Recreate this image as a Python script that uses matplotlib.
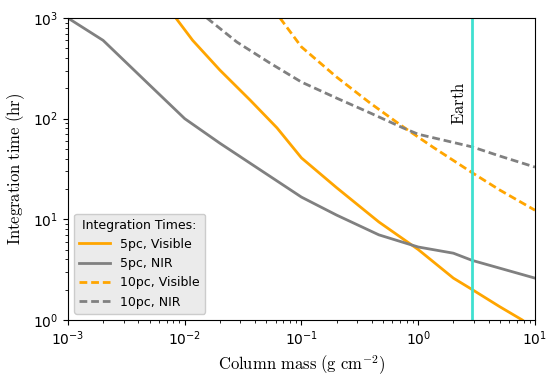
import numpy as np
import matplotlib
matplotlib.use("Agg")
import matplotlib.pyplot as plt

plt.rcParams['mathtext.fontset'] = 'cm'

# column mass (g cm^-2) and integration time (hr)
x_5_vis = [8.4e-3, 0.0117, 0.02, 0.0363, 0.0617, 0.1, 0.2, 0.46, 1.0, 2.0, 2.9, 5.0, 7.75, 10.0]
y_5_vis = [1000, 600, 304, 153, 81, 40.7, 20.6, 9.4, 5.0, 2.6, 2.0, 1.35, 1.0, 0.8]

x_5_nir = [1e-3, 2e-3, 5e-3, 1e-2, 2e-2, 0.1, 0.2, 0.46, 1.0, 2.0, 2.9, 10.0]
y_5_nir = [1000, 600, 216, 100, 57, 16.6, 11, 7.0, 5.3, 4.6, 3.9, 2.6]

x_10_vis = [0.0655, 0.1, 0.2, 0.387, 0.71, 1.34, 2.9, 5.0, 10.0]
y_10_vis = [1000, 516, 259, 143, 86, 52, 29, 19.5, 12.3]

x_10_nir = [0.0155, 0.028, 0.0537, 0.1, 0.2, 0.387, 0.74, 1.0, 2.0, 2.9, 5.0, 10.0]
y_10_nir = [1000, 577, 357, 231, 160, 114, 81, 70, 58, 52.4, 42.5, 33]

earth_mass = 2.9

fig = plt.figure(figsize=(5.57, 3.84), dpi=100)
ax = fig.add_axes([0.122, 0.167, 0.8385, 0.786])

dash = (2.8, 1.4)
ax.plot(x_5_vis, y_5_vis, color='orange', lw=2, label='5pc, Visible')
ax.plot(x_5_nir, y_5_nir, color='gray', lw=2, label='5pc, NIR')
ax.plot(x_10_vis, y_10_vis, color='orange', lw=2, ls='--', dashes=dash, label='10pc, Visible')
ax.plot(x_10_nir, y_10_nir, color='gray', lw=2, ls='--', dashes=dash, label='10pc, NIR')
ax.axvline(earth_mass, color='turquoise', lw=2)
ax.text(2.67, 143, r'$\mathrm{Earth}$', rotation=90, ha='right', va='center', fontsize=12)

ax.set_xscale('log')
ax.set_yscale('log')
ax.set_xlim(1e-3, 10)
ax.set_ylim(1, 1000)
ax.set_xlabel(r'$\mathrm{Column\ mass\ (g\ cm^{-2})}$', fontsize=12)
ax.set_ylabel(r'$\mathrm{Integration\ time\ (hr)}$', fontsize=12)
ax.tick_params(labelsize=10)

leg = ax.legend(title='Integration Times:', loc='lower left', fontsize=9,
                title_fontsize=9, facecolor='#ebebeb', edgecolor='#cccccc',
                framealpha=1, handlelength=2.5)

fig.savefig('out.png', dpi=100)
